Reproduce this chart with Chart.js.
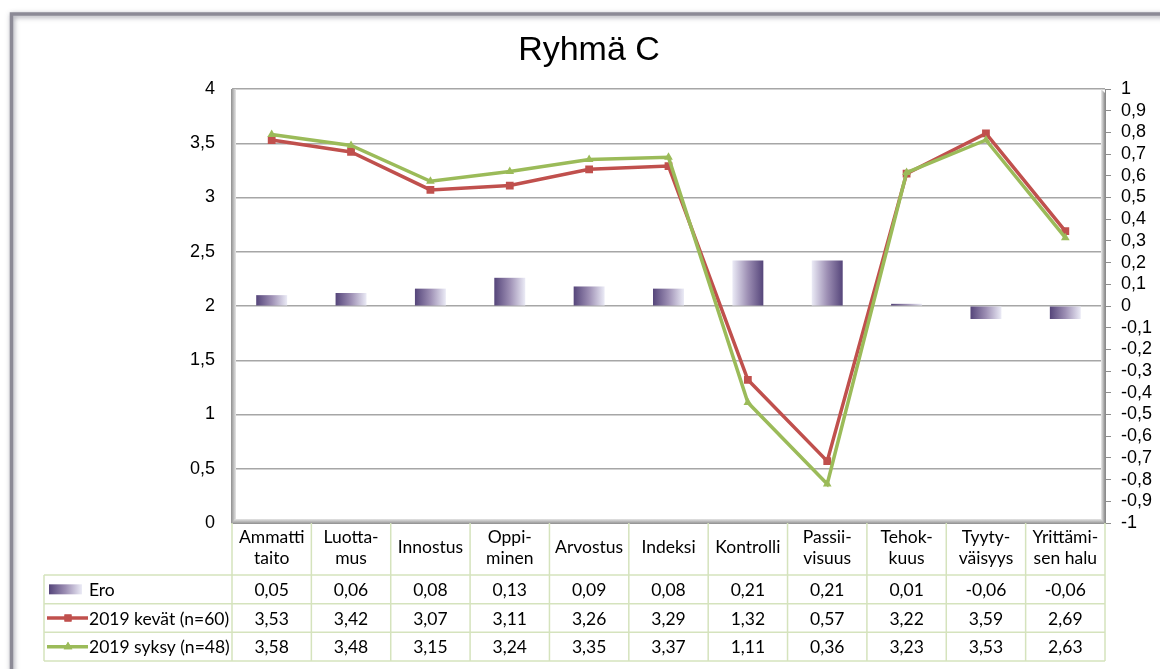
<!DOCTYPE html>
<html>
<head>
<meta charset="utf-8">
<script src="https://cdn.jsdelivr.net/npm/chart.js@4.4.1/dist/chart.umd.min.js"></script>
<style>
  html, body { margin: 0; padding: 0; background: #ffffff; }
  #wrap { width: 1160px; height: 669px; position: relative; }
</style>
</head>
<body>
<div id="wrap"><canvas id="chart"></canvas></div>
<script>
// Categories (two-line headers as in the table)
const categories = [
  ["Ammatti", "taito"], ["Luotta-", "mus"], ["Innostus"], ["Oppi-", "minen"],
  ["Arvostus"], ["Indeksi"], ["Kontrolli"], ["Passii-", "visuus"],
  ["Tehok-", "kuus"], ["Tyyty-", "väisyys"], ["Yrittämi-", "sen halu"]
];
const seriesNames = ["Ero", "2019 kevät (n=60)", "2019 syksy (n=48)"];
const ero    = [0.05, 0.06, 0.08, 0.13, 0.09, 0.08, 0.21, 0.21, 0.01, -0.06, -0.06];
const kevat  = [3.53, 3.42, 3.07, 3.11, 3.26, 3.29, 1.32, 0.57, 3.22, 3.59, 2.69];
const syksy  = [3.58, 3.48, 3.15, 3.24, 3.35, 3.37, 1.11, 0.36, 3.23, 3.53, 2.63];
// Items where a lower score is better (difference shown reversed)
const reverseScored = [6, 7];

const leftTickValues = [0, 0.5, 1, 1.5, 2, 2.5, 3, 3.5, 4];
const leftTickLabels = ["0", "0,5", "1", "1,5", "2", "2,5", "3", "3,5", "4"];
const rightTickValues = [-1, -0.9, -0.8, -0.7, -0.6, -0.5, -0.4, -0.3, -0.2, -0.1, 0,
                         0.1, 0.2, 0.3, 0.4, 0.5, 0.6, 0.7, 0.8, 0.9, 1];
const rightTickLabels = ["-1", "-0,9", "-0,8", "-0,7", "-0,6", "-0,5", "-0,4", "-0,3", "-0,2", "-0,1", "0",
                         "0,1", "0,2", "0,3", "0,4", "0,5", "0,6", "0,7", "0,8", "0,9", "1"];

const RED = "#c0504d";
const GREEN = "#9bbb59";
const AXIS_FONT = "'Liberation Sans', Arial, sans-serif";
const TABLE_FONT = "Lato, 'Noto Sans', sans-serif";
const TABLE_SIZE = 17.5;
const TABLE_LINE = "#d5e3bd";

function fmt(v) { return v.toFixed(2).replace(".", ","); }

function shade(ctx, x0, x1, reversed) {
  const g = ctx.createLinearGradient(x0, 0, x1, 0);
  const stops = ["#55457a", "#9d8fb4", "#ebebf6"];
  if (reversed) stops.reverse();
  g.addColorStop(0, stops[0]);
  g.addColorStop(0.5, stops[1]);
  g.addColorStop(1, stops[2]);
  return g;
}

// Outer chart frame with a soft shadow
const framePlugin = {
  id: "frame",
  beforeDraw(chart) {
    const ctx = chart.ctx;
    ctx.save();
    ctx.fillStyle = "#ffffff";
    ctx.fillRect(0, 0, chart.width, chart.height);
    ctx.shadowColor = "rgba(60,60,80,0.5)";
    ctx.shadowBlur = 5;
    ctx.shadowOffsetX = 1;
    ctx.shadowOffsetY = 1.5;
    ctx.strokeStyle = "#8c8a96";
    ctx.lineWidth = 3.5;
    ctx.strokeRect(11.5, 14, chart.width + 20, chart.height + 20);
    ctx.restore();
  }
};

// 3D-style walls of the plot area
const wallPlugin = {
  id: "walls",
  beforeDatasetsDraw(chart) {
    const { ctx, chartArea: a } = chart;
    ctx.save();
    let g = ctx.createLinearGradient(a.left - 1, 0, a.left + 4, 0);
    g.addColorStop(0, "#8e8e8e");
    g.addColorStop(1, "#e6e6e6");
    ctx.fillStyle = g;
    ctx.fillRect(a.left - 1, a.top, 5, a.bottom - a.top);
    g = ctx.createLinearGradient(a.right - 4, 0, a.right, 0);
    g.addColorStop(0, "#ececec");
    g.addColorStop(1, "#8e8e8e");
    ctx.fillStyle = g;
    ctx.beginPath();
    ctx.moveTo(a.right - 4, a.top);
    ctx.lineTo(a.right, a.top + 4);
    ctx.lineTo(a.right, a.bottom);
    ctx.lineTo(a.right - 4, a.bottom);
    ctx.closePath();
    ctx.fill();
    g = ctx.createLinearGradient(0, a.bottom - 4, 0, a.bottom + 1);
    g.addColorStop(0, "#e4e4e4");
    g.addColorStop(1, "#8e8e8e");
    ctx.fillStyle = g;
    ctx.beginPath();
    ctx.moveTo(a.left + 3, a.bottom - 4);
    ctx.lineTo(a.right - 4, a.bottom - 4);
    ctx.lineTo(a.right, a.bottom + 1);
    ctx.lineTo(a.left - 1, a.bottom + 1);
    ctx.closePath();
    ctx.fill();
    ctx.restore();
  }
};

// Data table under the plot: legend keys and values per category
const tablePlugin = {
  id: "dataTable",
  afterDraw(chart) {
    const { ctx, chartArea: a, scales: { x } } = chart;
    const legendLeft = 44;
    const headerBottom = a.bottom + 52;
    const rowH = (chart.height - 8 - headerBottom) / 3;
    const rows = [headerBottom, headerBottom + rowH, headerBottom + 2 * rowH, headerBottom + 3 * rowH];
    const half = (x.getPixelForValue(1) - x.getPixelForValue(0)) / 2;
    ctx.save();
    ctx.strokeStyle = TABLE_LINE;
    ctx.lineWidth = 1.5;
    ctx.beginPath();
    for (let i = 0; i <= categories.length; i++) {
      const px = (i < categories.length ? x.getPixelForValue(i) - half : x.getPixelForValue(i - 1) + half);
      ctx.moveTo(px, a.bottom);
      ctx.lineTo(px, rows[3]);
    }
    ctx.moveTo(legendLeft, rows[0]);
    ctx.lineTo(legendLeft, rows[3]);
    rows.forEach(r => { ctx.moveTo(legendLeft, r); ctx.lineTo(a.right, r); });
    ctx.stroke();

    ctx.fillStyle = "#000";
    ctx.font = TABLE_SIZE + "px " + TABLE_FONT;
    ctx.textBaseline = "middle";
    const series = [ero, kevat, syksy];
    series.forEach((vals, r) => {
      const cy = rows[r] + rowH / 2;
      ctx.textAlign = "center";
      vals.forEach((v, i) => ctx.fillText(fmt(v), x.getPixelForValue(i), cy + 1));
      ctx.textAlign = "left";
      ctx.fillText(seriesNames[r], 89, cy + 1);
    });

    // legend keys
    let cy = rows[0] + rowH / 2;
    ctx.fillStyle = shade(ctx, 49, 82, false);
    ctx.fillRect(49, cy - 5, 33, 10);
    [[RED, "rect"], [GREEN, "triangle"]].forEach(([col, style], k) => {
      cy = rows[k + 1] + rowH / 2;
      ctx.strokeStyle = col;
      ctx.lineWidth = 3.5;
      ctx.beginPath();
      ctx.moveTo(47, cy);
      ctx.lineTo(88, cy);
      ctx.stroke();
      ctx.fillStyle = col;
      Chart.helpers.drawPoint(ctx, { pointStyle: style, radius: 5, borderWidth: 0 }, 68, cy);
      ctx.fill();
    });
    ctx.restore();
  }
};

new Chart(document.getElementById("chart"), {
  data: {
    labels: categories,
    datasets: [
      {
        type: "line", label: seriesNames[2], data: syksy, yAxisID: "y", order: 1,
        borderColor: GREEN, backgroundColor: GREEN, borderWidth: 3.5, tension: 0,
        pointStyle: "triangle", pointRadius: 5, pointBorderWidth: 0
      },
      {
        type: "line", label: seriesNames[1], data: kevat, yAxisID: "y", order: 2,
        borderColor: RED, backgroundColor: RED, borderWidth: 3.5, tension: 0,
        pointStyle: "rect", pointRadius: 5.5, pointBorderWidth: 0
      },
      {
        type: "bar", label: seriesNames[0], data: ero, yAxisID: "y1", order: 3,
        categoryPercentage: 1, barPercentage: 0.39, borderWidth: 0,
        backgroundColor: (c) => {
          const chart = c.chart;
          const xs = chart.scales.x;
          if (!xs || c.dataIndex === undefined) return "#8a7aa5";
          const cx = xs.getPixelForValue(c.dataIndex);
          const w = (xs.getPixelForValue(1) - xs.getPixelForValue(0)) * 0.39 / 2;
          if (!isFinite(cx) || !isFinite(w) || w <= 0) return "#8a7aa5";
          return shade(chart.ctx, cx - w, cx + w, reverseScored.includes(c.dataIndex));
        }
      }
    ]
  },
  options: {
    responsive: true,
    maintainAspectRatio: false,
    animation: false,
    events: [],
    layout: { padding: { left: 18, top: 0, right: 0, bottom: 0 } },
    plugins: {
      legend: { display: false },
      tooltip: { enabled: false },
      title: {
        display: true, text: "Ryhmä C", color: "#000",
        font: { family: AXIS_FONT, size: 34, weight: "normal", lineHeight: 1.2 },
        padding: { top: 30, bottom: 18.2 }
      }
    },
    scales: {
      x: {
        type: "category",
        grid: { display: false },
        border: { display: false },
        ticks: {
          color: "#000", autoSkip: false, maxRotation: 0, minRotation: 0,
          crossAlign: "center", padding: 6,
          font: { family: TABLE_FONT, size: TABLE_SIZE, lineHeight: 1.2 }
        },
        afterFit: (s) => { s.height = 146; }
      },
      y: {
        position: "left", min: 0, max: 4,
        grid: { color: "#a6a6a6", lineWidth: 1.5, drawTicks: false },
        border: { display: false },
        ticks: {
          color: "#000", padding: 17, autoSkip: false, font: { family: AXIS_FONT, size: 18 },
          callback: (v, i) => leftTickLabels[i]
        },
        afterBuildTicks: (s) => { s.ticks = leftTickValues.map(v => ({ value: v })); },
        afterFit: (s) => { s.width = 214; }
      },
      y1: {
        position: "right", min: -1, max: 1,
        grid: { drawOnChartArea: false, drawTicks: true, tickLength: 6, color: "#8c8c8c", lineWidth: 1 },
        border: { display: true, color: "#8c8c8c", width: 1 },
        ticks: {
          color: "#000", padding: 10, autoSkip: false, font: { family: AXIS_FONT, size: 18 },
          callback: (v, i) => rightTickLabels[i]
        },
        afterBuildTicks: (s) => { s.ticks = rightTickValues.map(v => ({ value: v })); },
        afterFit: (s) => { s.width = 55; }
      }
    }
  },
  plugins: [framePlugin, wallPlugin, tablePlugin]
});
</script>
</body>
</html>
